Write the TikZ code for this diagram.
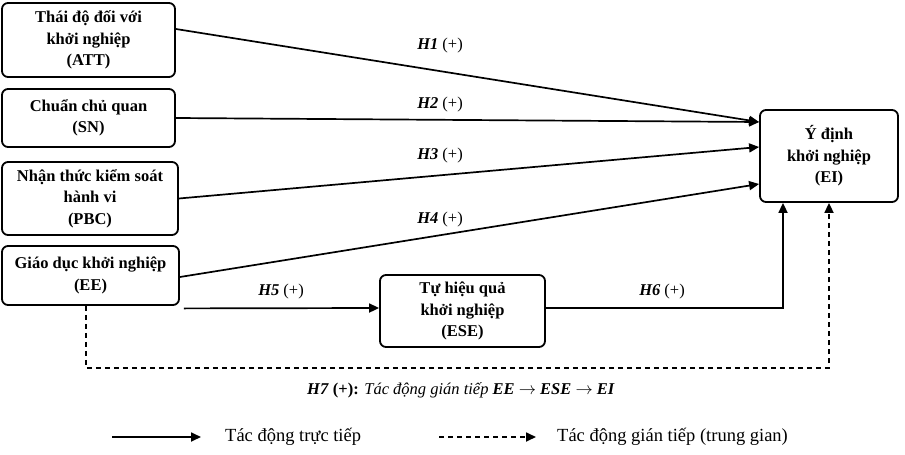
\documentclass[tikz,border=0pt]{standalone}
\usepackage{fontspec}
\setmainfont{Liberation Serif}
\usetikzlibrary{arrows.meta,positioning}

\tikzset{
  box/.style={draw, line width=1.8pt, rounded corners=6pt, align=center,
    inner sep=0pt, font=\fontsize{16.5}{21.5}\selectfont\bfseries},
  arr/.style={line width=1.7pt, -{Triangle[length=10pt,width=9pt]}},
  darr/.style={arr, dash pattern=on 5pt off 4pt},
  lbl/.style={font=\fontsize{16.5}{20}\selectfont},
  legtxt/.style={font=\fontsize{18.5}{22}\selectfont, anchor=west, inner sep=0pt}
}

\begin{document}
\begin{tikzpicture}[x=1pt,y=-1pt]
\useasboundingbox (0,0) rectangle (905,455);

% boxes
\node[box, minimum width=173pt, minimum height=74pt] (att) at (88.5,40) {Thái độ đối với\\khởi nghiệp\\(ATT)};
\node[box, minimum width=173pt, minimum height=58pt] (sn) at (88.5,118) {Chuẩn chủ quan\\(SN)};
\node[box, minimum width=176pt, minimum height=73pt] (pbc) at (90,198.5) {Nhận thức kiểm soát\\hành vi\\(PBC)};
\node[box, minimum width=177pt, minimum height=59pt] (ee) at (90.5,275.5) {Giáo dục khởi nghiệp\\(EE)};
\node[box, minimum width=165pt, minimum height=72pt] (ese) at (462.5,311) {Tự hiệu quả\\khởi nghiệp\\(ESE)};
\node[box, minimum width=138pt, minimum height=92pt] (ei) at (829,156) {Ý định\\khởi nghiệp\\(EI)};

% direct effects
\draw[arr] ([yshift=11pt]att.east) -- ([yshift=34pt]ei.west);
\draw[arr] (sn.east) -- ([yshift=34pt]ei.west);
\draw[arr] (pbc.east) -- ([yshift=9pt]ei.west);
\draw[arr] ([yshift=-1.5pt]ee.east) -- ([yshift=-28pt]ei.west);
\draw[arr] ([xshift=4pt,yshift=-2.5pt]ee.south east) -- ([yshift=3pt]ese.west);
\draw[arr] ([yshift=3pt]ese.east) -| ([xshift=-46pt]ei.south);

% indirect effect
\coordinate (low) at (0,368);
\draw[darr] ([xshift=-4.5pt]ee.south) |- (low -| ei.south) -- (ei.south);

% labels
\node[lbl] (h1) at (440,46) {\textbf{\textit{H1}} (+)};
\node[lbl] (h2) at (440,105) {\textbf{\textit{H2}} (+)};
\node[lbl] (h3) at (440,156) {\textbf{\textit{H3}} (+)};
\node[lbl] (h4) at (440,220) {\textbf{\textit{H4}} (+)};
\node[lbl] (h5) at (281,292) {\textbf{\textit{H5}} (+)};
\node[lbl] (h6) at (662,292) {\textbf{\textit{H6}} (+)};
\node[lbl] (h7) at (461,390) {\textbf{\textit{H7} (+):} \textit{Tác động gián tiếp} \textbf{\textit{EE $\rightarrow$ ESE $\rightarrow$ EI}}};

% legend
\coordinate (l1s) at (112,437);
\coordinate (l1e) at (201,437);
\node[legtxt] (l1) at (225,437) {Tác động trực tiếp};
\draw[arr] (l1s) -- (l1e);
\coordinate (l2s) at (439,437);
\coordinate (l2e) at (536,437);
\node[legtxt] (l2) at (557,437) {Tác động gián tiếp (trung gian)};
\draw[darr] (l2s) -- (l2e);
\end{tikzpicture}
\end{document}
